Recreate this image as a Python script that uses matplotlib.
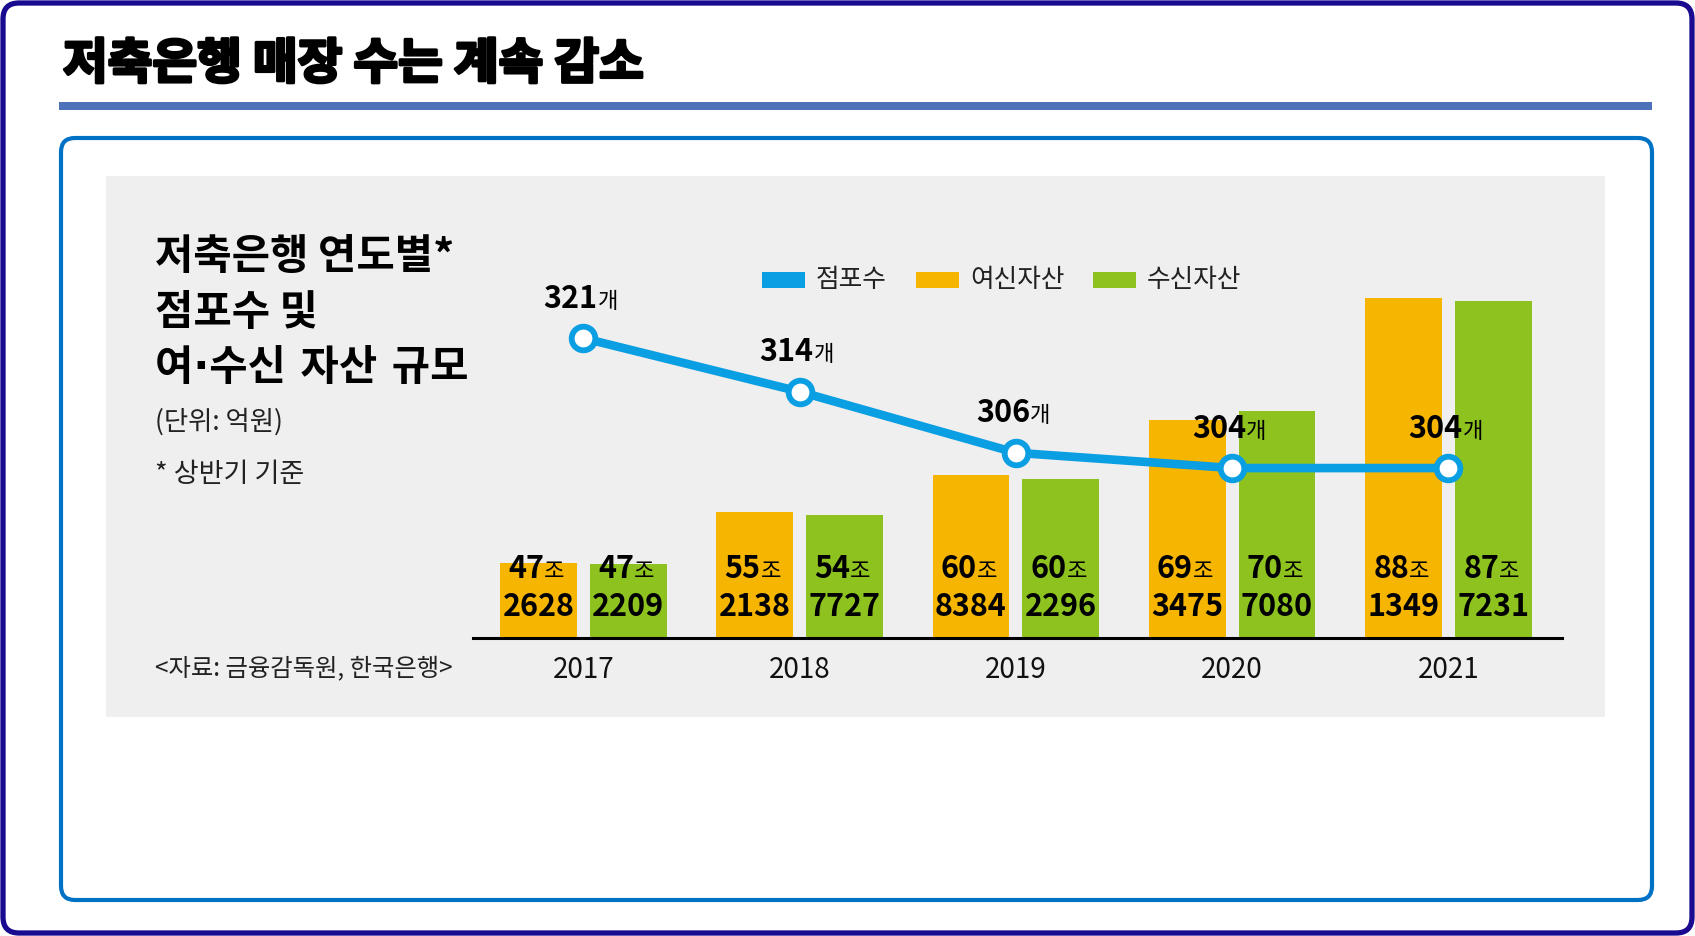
import matplotlib
matplotlib.use('Agg')
import matplotlib.pyplot as plt
import matplotlib.patheffects as pe
from matplotlib.patches import FancyBboxPatch
import numpy as np

KR = 'Noto Sans CJK KR'

plt.rcParams['font.family'] = [KR, 'DejaVu Sans']

# data
years = ['2017', '2018', '2019', '2020', '2021']
branches = [321, 314, 306, 304, 304]
loans = [472628, 552138, 608384, 693475, 881349]      # 억원
deposits = [472209, 547727, 602296, 707080, 877231]   # 억원

ORANGE = '#f6b500'
GREEN = '#8ec31f'
BLUE = '#0a9ee2'

W, H = 1695, 936
fig = plt.figure(figsize=(W / 100, H / 100), dpi=100)
fig.patch.set_facecolor('white')


def pxBox(x0, y0, x1, y1, r=0, **kw):
    # box in pixel coordinates (origin top-left)
    p = FancyBboxPatch((x0 / 100, (H - y1) / 100), (x1 - x0) / 100, (y1 - y0) / 100,
                       boxstyle=f'round,pad=0,rounding_size={r / 100}',
                       transform=fig.dpi_scale_trans, zorder=-5, **kw)
    fig.add_artist(p)
    return p


def pxText(x, y, s, **kw):
    return fig.text(x / W, 1 - y / H, s, **kw)


# frames
pxBox(3, 3, 1692, 933, r=16, fill=False, edgecolor='#1a0a8f', linewidth=3.8)
pxBox(59, 102, 1652, 110, r=0, facecolor='#4d72b9', edgecolor='none')
pxBox(61, 138, 1652, 900, r=14, fill=False, edgecolor='#0072c6', linewidth=3.0)
pxBox(106, 176, 1605, 717, r=0, facecolor='#efefef', edgecolor='none')

t = pxText(63, 64, '저축은행 매장 수는 계속 감소', fontsize=35, fontweight='bold',
           va='center', ha='left', color='black')
t.set_path_effects([pe.withStroke(linewidth=2.2, foreground='black')])

# chart titles
pxText(155, 257, '저축은행 연도별*', fontsize=30, fontweight='bold', va='center')
pxText(155, 313, '점포수 및', fontsize=30, fontweight='bold', va='center')
pxText(155, 368, '여·수신 자산 규모', fontsize=30, fontweight='bold', va='center',
       family=['DejaVu Sans', KR])
pxText(155, 422, '(단위: 억원)', fontsize=19, va='center', color='#222222')
pxText(155, 474, '* 상반기 기준', fontsize=19.5, va='center', color='#222222')
pxText(155, 668, '<자료: 금융감독원, 한국은행>', fontsize=17.5, va='center', color='#222222')

# legend
legendItems = [('점포수', BLUE, 762), ('여신자산', ORANGE, 916), ('수신자산', GREEN, 1093)]
for label, col, lx in legendItems:
    pxBox(lx, 272, lx + 43, 288, r=0, facecolor=col, edgecolor='none')
    pxText(lx + 54, 280, label, fontsize=18.5, va='center', color='#222222')

# axes
ax = fig.add_axes([473 / W, 1 - 638 / H, (1562 - 473) / W, (638 - 270) / H])
ax.set_facecolor('none')
x = np.arange(len(years))
bw = 0.355
ax.bar(x - 0.2075, np.array(loans) / 10000, bw, color=ORANGE, zorder=2)
ax.bar(x + 0.2075, np.array(deposits) / 10000, bw, color=GREEN, zorder=2)
ax.set_xlim(-0.51, 4.525)
ax.set_ylim(35.75, 92.46)
for s in ['top', 'right', 'left']:
    ax.spines[s].set_visible(False)
ax.spines['bottom'].set_linewidth(2.2)
ax.spines['bottom'].set_zorder(3)
ax.set_yticks([])
ax.set_xticks(x)
ax.set_xticklabels(years, fontsize=20, color='#111111')
ax.tick_params(axis='x', length=0, pad=12)

NUMSIZE = 22
digitW = 0.55 * NUMSIZE
sufW = 16


def valueLabel(axis, xv, xy, num, suffix, base1, second=None):
    n = len(num)
    split = n * digitW - (n * digitW + sufW) / 2
    axis.annotate(num, xy=xy, xycoords=xv, xytext=(split, base1), textcoords='offset points',
                  ha='right', va='baseline', fontsize=NUMSIZE, fontweight='bold',
                  color='black', zorder=5)
    axis.annotate(suffix, xy=xy, xycoords=xv, xytext=(split, base1), textcoords='offset points',
                  ha='left', va='baseline', fontsize=16, color='black', zorder=5)
    if second is not None:
        axis.annotate(second, xy=xy, xycoords=xv, xytext=(0, 15.5), textcoords='offset points',
                      ha='center', va='baseline', fontsize=NUMSIZE, fontweight='bold',
                      color='black', zorder=5)


for i in range(len(years)):
    for off, v in ((-0.2075, loans[i]), (0.2075, deposits[i])):
        valueLabel(ax, ('data', 'axes fraction'), (x[i] + off, 0),
                   str(v // 10000), '조', 43, f'{v % 10000:04d}')

# branch line
ax2 = ax.twinx()
ax2.set_ylim(281.76, 329.92)
for s in ax2.spines.values():
    s.set_visible(False)
ax2.set_yticks([])
ax2.plot(x, branches, color=BLUE, linewidth=6.2, marker='o', markersize=17,
         markerfacecolor='white', markeredgecolor=BLUE, markeredgewidth=4.2, zorder=4)
for i, b in enumerate(branches):
    valueLabel(ax2, 'data', (x[i], b), str(b), '개', 22)

fig.savefig('out.png', dpi=100, facecolor='white')
